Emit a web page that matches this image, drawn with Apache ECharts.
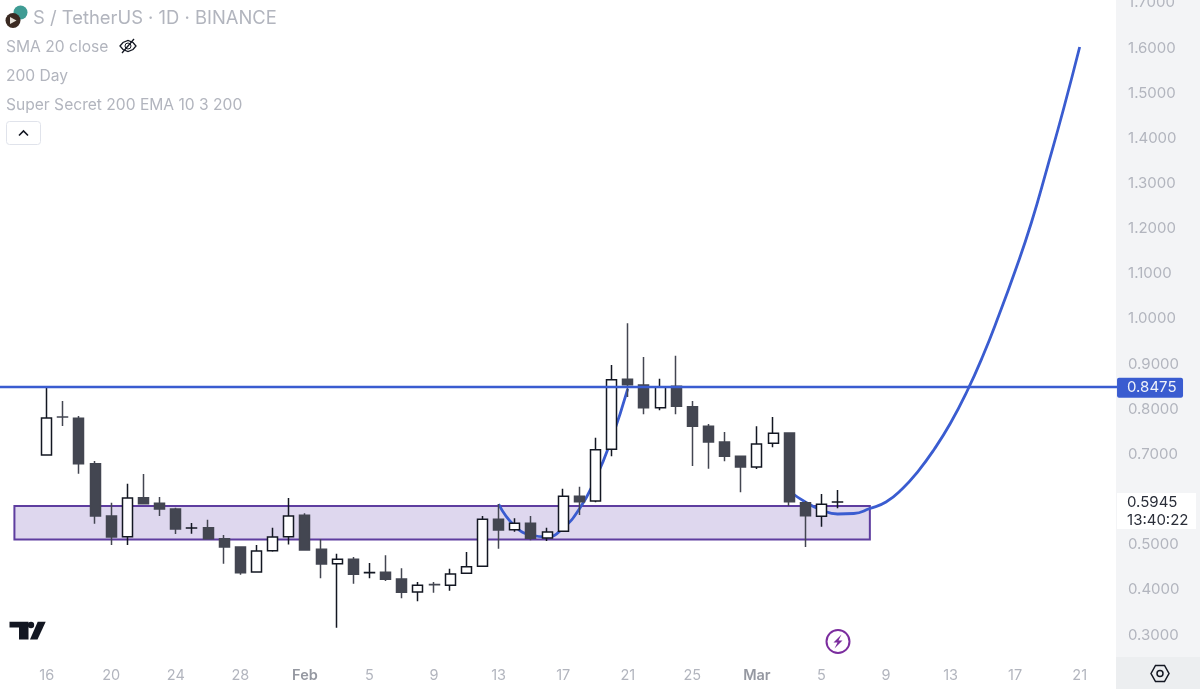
<!DOCTYPE html>
<html><head><meta charset="utf-8">
<style>html,body{margin:0;padding:0;background:#fff}#c{width:1200px;height:689px}</style>
<script src="https://cdn.jsdelivr.net/npm/echarts@6/dist/echarts.min.js"></script>
</head><body><div id="c"></div>
<script>
const categories = ['Jan 13','Jan 14','Jan 15','Jan 16','Jan 17','Jan 18','Jan 19','Jan 20','Jan 21','Jan 22','Jan 23','Jan 24','Jan 25','Jan 26','Jan 27','Jan 28','Jan 29','Jan 30','Jan 31',
'Feb 1','Feb 2','Feb 3','Feb 4','Feb 5','Feb 6','Feb 7','Feb 8','Feb 9','Feb 10','Feb 11','Feb 12','Feb 13','Feb 14','Feb 15','Feb 16','Feb 17','Feb 18','Feb 19','Feb 20','Feb 21','Feb 22','Feb 23','Feb 24','Feb 25','Feb 26','Feb 27','Feb 28',
'Mar 1','Mar 2','Mar 3','Mar 4','Mar 5','Mar 6','Mar 7','Mar 8','Mar 9','Mar 10','Mar 11','Mar 12','Mar 13','Mar 14','Mar 15','Mar 16','Mar 17','Mar 18','Mar 19','Mar 20','Mar 21','Mar 22','Mar 23'];
const tickDays = ['Jan 16','Jan 20','Jan 24','Jan 28','Feb 1','Feb 5','Feb 9','Feb 13','Feb 17','Feb 21','Feb 25','Mar 1','Mar 5','Mar 9','Mar 13','Mar 17','Mar 21'];
const candleDays = categories.slice(3, 53);
const opens  = [.6987,.783,.78,.6794,.5636,.5177,.6041,.5917,.5791,.537,.5377,.5133,.4949,.4395,.4867,.5177,.5651,.4898,.4579,.4677,.438,.4389,.424,.3952,.4116,.4101,.4367,.4522,.5563,.5332,.5474,.5148,.5297,.6072,.5968,.7113,.8663,.8537,.8034,.8508,.8056,.7622,.7275,.6958,.6721,.7246,.7474,.593,.5629,.5943];
const closes = [.7806,.7828,.6794,.5636,.5171,.6034,.5908,.5791,.5348,.5372,.5133,.4949,.438,.486,.5171,.5636,.4883,.4573,.4677,.4344,.4382,.4234,.3946,.4101,.4114,.4351,.4513,.5563,.5326,.5474,.5142,.5281,.6072,.5952,.7104,.8654,.8544,.8034,.8499,.8065,.7622,.7275,.6958,.6721,.723,.7467,.5952,.5642,.5895,.5945];
const lows   = [.6987,.7629,.6573,.5465,.4993,.4993,.5908,.5636,.5237,.5244,.5133,.4579,.4336,.4395,.4845,.5004,.4876,.4256,.3162,.4136,.4256,.4196,.3813,.3746,.3937,.3981,.4367,.4506,.4911,.5288,.5097,.5082,.5288,.5658,.5939,.6958,.8271,.7888,.7977,.7888,.6743,.6683,.6847,.6161,.6677,.7157,.5857,.4949,.5399,.5806];
const highs  = [.848,.8183,.785,.6854,.593,.6351,.6566,.6056,.582,.5481,.5554,.5215,.4949,.4993,.5377,.6034,.5695,.512,.4801,.4728,.4595,.4765,.4477,.4174,.4174,.4468,.4838,.5636,.5901,.5585,.5636,.5377,.624,.6285,.737,.898,.9904,.9157,.8677,.9186,.8183,.7673,.7496,.6971,.7622,.7828,.749,.5968,.6123,.6212];
const riseDays = ['Feb 13','Feb 14','Feb 15','Feb 16','Feb 17','Feb 18','Feb 19','Feb 20','Feb 21'];
const riseValues = [.5901,.5414,.5215,.5171,.537,.5791,.6455,.7341,.8449];
const projDays = ['Mar 3','Mar 4','Mar 5','Mar 6','Mar 7','Mar 8','Mar 9','Mar 10','Mar 11','Mar 12','Mar 13','Mar 14','Mar 15','Mar 16','Mar 17','Mar 18','Mar 19','Mar 20','Mar 21'];
const projValues = [.6189,.5946,.5769,.568,.5691,.5802,.5946,.6234,.6632,.712,.7695,.8382,.9179,1.0087,1.1062,1.2125,1.3365,1.465,1.6023];
const priceLevel = 0.8475;
const zoneTop = 0.5857, zoneBottom = 0.5115, zoneStart = 'Jan 14', zoneEnd = 'Mar 8';
const lastPriceText = '0.5945', countdownText = '13:40:22', lastTagAnchor = 0.5745;
const titleText = 'S / TetherUS · 1D · BINANCE';
const legendLines = ['SMA 20 close', '200 Day', 'Super Secret 200 EMA 10 3 200'];

const BLUE = '#3a5cd0', GREY = '#b2b5be', FONT = 'Inter, "Noto Sans", sans-serif';
const candleData = categories.map(d => {
  const i = candleDays.indexOf(d);
  return i < 0 ? ['-','-','-','-'] : [opens[i], closes[i], lows[i], highs[i]];
});
const chart = echarts.init(document.getElementById('c'), null, {renderer:'canvas'});
const txt = (x,y,s,size,fill) => ({type:'text', z:20, x, y, silent:true, style:{text:s, fontSize:size, fontFamily:FONT, fill, verticalAlign:'middle'}});
const poly = (pts,z,fill) => ({type:'polygon', z, silent:true, shape:{points:pts}, style:{fill}});
const stroke = (type,pts,z,c,w) => ({type, z, silent:true, shape:{points:pts}, style:{fill:'none',stroke:c,lineWidth:w}});
chart.setOption({
  animation:false,
  backgroundColor:'#ffffff',
  grid:{left:-9.8, width:1129.83, top:2.9, height:677.25, containLabel:false, outerBoundsMode:'none'},
  xAxis:{type:'category', data:categories, boundaryGap:true,
    axisLine:{show:false}, axisTick:{show:false}, splitLine:{show:false},
    axisLabel:{margin:-12, hideOverlap:false, fontFamily:FONT, fontSize:14.5, color:GREY,
      interval:(i,v)=>tickDays.includes(v),
      formatter:v=>{const [m,d]=v.split(' '); return d==='1' ? '{m|'+m+'}' : d;},
      rich:{m:{fontFamily:FONT,fontSize:14.5,fontWeight:600,color:'#9598a1'}}}},
  yAxis:[
    {type:'value', position:'right', min:0.2, max:1.7, interval:0.1, z:10, scale:false,
     axisLine:{show:false}, axisTick:{show:false}, splitLine:{show:false},
     axisLabel:{margin:8, fontFamily:FONT, fontSize:15, color:GREY, showMinLabel:true,
       formatter:v=>v<0.25?'':v.toFixed(4)}},
    {type:'value', position:'right', min:0.2, max:1.7, z:12,
     axisLine:{show:false}, axisTick:{show:false}, splitLine:{show:false},
     axisLabel:{margin:-3, customValues:[priceLevel,lastTagAnchor], align:'left', backgroundColor:'#ffffff',
       formatter:v=>Math.abs(v-priceLevel)<1e-6?'{b|'+priceLevel.toFixed(4)+'}':'{w|'+lastPriceText+'}\n{w|'+countdownText+'}',
       rich:{
        b:{backgroundColor:BLUE,color:'#f0f3fa',borderRadius:2,width:56,height:20,lineHeight:20,padding:[0,0,0,10],fontFamily:FONT,fontSize:15},
        w:{color:'#2a2e39',width:69,lineHeight:18,padding:[0,0,0,10],fontFamily:FONT,fontSize:15}}}}
  ],
  series:[
    {type:'line', name:'zone', data:[], z:1, silent:true, symbol:'none',
     markArea:{silent:true, itemStyle:{color:'#ded7ee', borderColor:'#5e3d9f', borderWidth:2},
       data:[[{xAxis:zoneStart,yAxis:zoneTop},{xAxis:zoneEnd,yAxis:zoneBottom}]]}},
    {type:'line', name:'rise', z:1.5, smooth:0.5, symbol:'none', silent:true,
     lineStyle:{color:BLUE,width:2.8}, data:riseDays.map((d,i)=>[d,riseValues[i]]),
     markLine:{silent:true, symbol:'none', label:{show:false}, lineStyle:{color:BLUE,width:2.4,type:'solid'}, data:[{yAxis:priceLevel}]}},
    {type:'line', name:'projection', z:1.5, smooth:0.5, symbol:'none', silent:true,
     lineStyle:{color:BLUE,width:2.8}, data:projDays.map((d,i)=>[d,projValues[i]])},
    {type:'candlestick', name:'S/USDT', z:2, silent:true, barWidth:10.5, data:candleData,
     itemStyle:{color:'#ffffff', color0:'#434651', borderColor:'#131722', borderColor0:'#434651', borderWidth:1.5}}
  ],
  graphic:{elements:[
    {type:'rect', z:5, silent:true, shape:{x:1116,y:0,width:84,height:657}, style:{fill:'#f3f4f6'}},
    {type:'rect', z:5, silent:true, shape:{x:1116,y:657,width:84,height:32}, style:{fill:'#eceef0'}},
    stroke('polygon',[[1151,673.5],[1155.5,665.5],[1164.5,665.5],[1169,673.5],[1164.5,681.5],[1155.5,681.5]],20,'#131722',1.5),
    {type:'circle', z:20, silent:true, shape:{cx:1160,cy:673.5,r:3}, style:{fill:'none',stroke:'#131722',lineWidth:1.5}},
    txt(33,18,titleText,18.4,GREY),
    txt(6,47,legendLines[0],15.6,GREY),
    txt(6,76,legendLines[1],15.6,GREY),
    txt(6,105,legendLines[2],15.6,GREY),
    {type:'circle', z:20, silent:true, shape:{cx:20.5,cy:12.5,r:7}, style:{fill:'#3f9c94'}},
    {type:'circle', z:21, silent:true, shape:{cx:13,cy:20.5,r:7.5}, style:{fill:'#3b2a22'}},
    poly([[10,17],[16.5,20.5],[10,24]],22,'#e8e4dc'),
    stroke('polygon',[[120,46],[123,42.5],[128,40.5],[133,42.5],[136,46],[133,49.5],[128,51.5],[123,49.5]],20,'#131722',1.3),
    stroke('polyline',[[122,53],[134,39]],20,'#131722',1.3),
    {type:'circle', z:20, silent:true, shape:{cx:128,cy:46,r:3}, style:{fill:'none',stroke:'#131722',lineWidth:1}},
    {type:'rect', z:20, silent:true, shape:{x:6.5,y:121.5,width:34,height:23,r:3}, style:{fill:'#fff',stroke:'#e0e3eb',lineWidth:1}},
    stroke('polyline',[[19,135.5],[23.5,131],[28,135.5]],21,'#131722',1.6),
    poly([[9.5,621.7],[28.5,621.7],[28.5,639.5],[19,639.5],[19,627.5],[9.5,627.5]],20,'#131722'),
    poly([[37.7,621.7],[45.7,621.7],[37.5,639.5],[30,639.5]],20,'#131722'),
    {type:'circle', z:21, silent:true, shape:{cx:31,cy:625,r:3.2}, style:{fill:'#131722'}},
    {type:'circle', z:20, silent:true, shape:{cx:838,cy:641.5,r:11.5}, style:{fill:'#fff',stroke:'#7b2d9e',lineWidth:2}},
    poly([[841.5,634.5],[833.5,642.5],[837.5,642.5],[834.5,648.5],[842.5,640.5],[838.5,640.5]],21,'#7b2d9e')
  ]}
});
</script></body></html>
